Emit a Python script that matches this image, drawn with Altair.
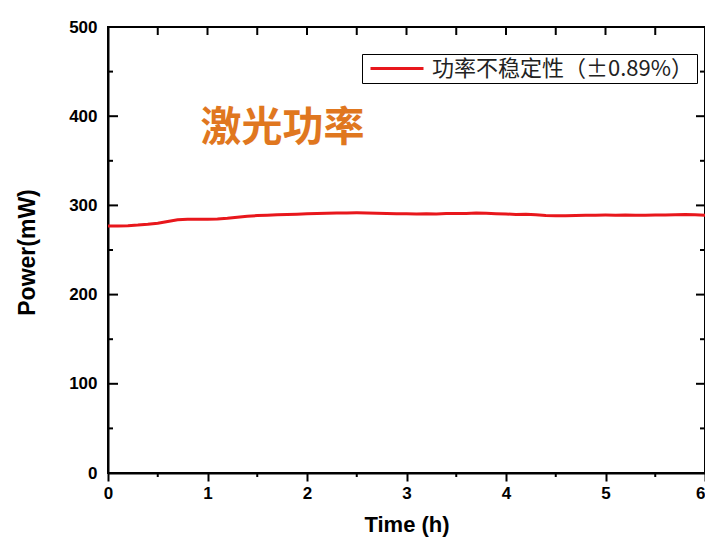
import altair as alt
import pandas as pd

# ---- data ----
times = [0.0, 0.1, 0.2, 0.3, 0.4, 0.5, 0.6, 0.7, 0.8, 0.9,
         1.0, 1.1, 1.2, 1.3, 1.4, 1.5, 1.6, 1.7, 1.8, 1.9,
         2.0, 2.1, 2.2, 2.3, 2.4, 2.5, 2.6, 2.7, 2.8, 2.9,
         3.0, 3.1, 3.2, 3.3, 3.4, 3.5, 3.6, 3.7, 3.8, 3.9,
         4.0, 4.1, 4.2, 4.3, 4.4, 4.5, 4.6, 4.7, 4.8, 4.9,
         5.0, 5.1, 5.2, 5.3, 5.4, 5.5, 5.6, 5.7, 5.8, 5.9, 6.0]
power = [276.8, 277.0, 277.3, 277.9, 278.8, 280.0, 282.0, 283.8, 284.4, 284.6,
         284.5, 284.7, 285.6, 286.8, 287.9, 288.6, 289.0, 289.4, 289.7, 290.1,
         290.5, 290.8, 291.2, 291.4, 291.6, 291.7, 291.6, 291.3, 291.0, 290.7,
         290.6, 290.3, 290.5, 290.4, 290.8, 290.9, 291.0, 291.4, 291.2, 290.7,
         290.3, 289.9, 290.2, 289.5, 288.7, 288.3, 288.5, 288.6, 288.9, 289.0,
         289.1, 289.0, 289.2, 289.0, 288.9, 289.1, 289.3, 289.6, 289.9, 289.4, 289.0]
series_label = "功率不稳定性（±0.89%）"
annotation_text = ["激光功率"]
annotation_t = [0.93]
annotation_p = [386]

x_major = [0, 1, 2, 3, 4, 5, 6]
x_minor = [0.5, 1.5, 2.5, 3.5, 4.5, 5.5]
x_top = [0.5, 1, 1.5, 2, 2.5, 3, 3.5, 4, 4.5, 5, 5.5]
y_major = [0, 100, 200, 300, 400, 500]
y_minor = [50, 150, 250, 350, 450]
y_inner_major = [100, 200, 300, 400]

W, H = 597, 446
FONT = "Liberation Sans, Arial, sans-serif"

df = pd.DataFrame({"t": times, "p": power, "s": [series_label] * len(times)})

xs = alt.Scale(domain=[0, 6], nice=False, zero=False)
ys = alt.Scale(domain=[0, 500], nice=False, zero=False)

line = alt.Chart(df).mark_line(strokeWidth=3).encode(
    x=alt.X("t:Q", scale=xs, axis=alt.Axis(
        values=x_major, title="Time (h)", format="d",
        tickSize=8, tickWidth=2, labelPadding=4, labelFlush=False,
        labelAlign={"condition": {"test": "datum.value == 6", "value": "right"}, "value": "center"},
        titleY=58, titleBaseline="alphabetic", titleFontSize=22)),
    y=alt.Y("p:Q", scale=ys, axis=alt.Axis(
        values=y_major, title="Power(mW)", ticks=False, labelPadding=11,
        titleX=-74, titleY=225, titleAlign="center", titleBaseline="alphabetic",
        titleFontSize=23)),
    color=alt.Color("s:N", scale=alt.Scale(range=["#e8171c"]), legend=alt.Legend(
        title=None, orient="none", legendX=254, legendY=27,
        symbolType="M-0.6,0H4.7", symbolSize=400, symbolStrokeWidth=3,
        labelFont="Noto Sans CJK SC", labelFontSize=22, labelColor="#222222",
        labelLimit=500, labelOffset=44, padding=3,
        strokeColor="black", fillColor="white")),
)

def hticks(vals, x0, x1):
    return alt.Chart(pd.DataFrame({"p": vals})).mark_rule(color="black", strokeWidth=2).encode(
        y=alt.Y("p:Q", scale=ys), x=alt.value(x0), x2=alt.value(x1))

def vticks(vals, y0, y1):
    return alt.Chart(pd.DataFrame({"t": vals})).mark_rule(color="black", strokeWidth=2).encode(
        x=alt.X("t:Q", scale=xs), y=alt.value(y0), y2=alt.value(y1))

left_major = hticks(y_inner_major, 0, 10)
left_minor = hticks(y_minor, 0, 5)
right_major = hticks(y_inner_major, W - 9, W)
right_minor = hticks(y_minor, W - 5, W)
top_ticks = vticks(x_top, 0, 8)
bottom_minor = vticks(x_minor, H, H + 4)

annot = alt.Chart(pd.DataFrame({"t": annotation_t, "p": annotation_p, "label": annotation_text})).mark_text(
    align="left", baseline="middle", fontSize=41, font="Noto Sans CJK SC",
    fontWeight="bold", color="#e0771f").encode(
    x=alt.X("t:Q", scale=xs), y=alt.Y("p:Q", scale=ys), text="label:N")

chart = alt.layer(
    line, left_major, left_minor, right_major, right_minor, top_ticks, bottom_minor, annot
).properties(
    width=W, height=H,
    padding={"left": 100, "top": 19, "right": 0, "bottom": 64},
    autosize=alt.AutoSizeParams(type="none"),
    background="white",
).configure_view(
    stroke="black", strokeWidth=2
).configure_axis(
    domainColor="black", domainWidth=2, tickColor="black", grid=False,
    labelFont=FONT, labelFontWeight="bold", labelFontSize=17, labelColor="black",
    titleFont=FONT, titleFontWeight="bold", titleColor="black",
)

chart.save("out.html", embed_options={"renderer": "svg", "actions": False})
